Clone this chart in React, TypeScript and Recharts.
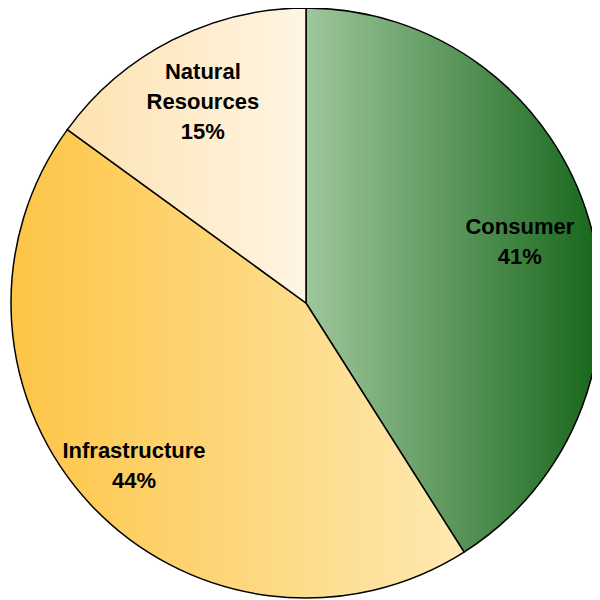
import { PieChart, Pie, Cell } from 'recharts';

// Sector shares (percent)
const sectors = ['Consumer', 'Infrastructure', 'Natural Resources'];
const shares = [41, 44, 15];

// gradient colours per slice: [left, right]
const gradients = [
  ['#9fc79c', '#17661b'],
  ['#fdc546', '#fee9b2'],
  ['#fde2b0', '#fff5e3'],
];
// how far out each label sits, as fraction of the radius
const labelPos = [0.755, 0.8, 0.77];

const data = sectors.map((name, i) => ({ name, value: shares[i] }));

const RADIAN = Math.PI / 180;

const renderLabel = (props: any) => {
  const { cx, cy, midAngle, outerRadius, index, name, percent } = props;
  const r = outerRadius * labelPos[index];
  const x = cx + r * Math.cos(-midAngle * RADIAN);
  const y = cy + r * Math.sin(-midAngle * RADIAN);
  const lines = name === 'Natural Resources' ? ['Natural', 'Resources'] : [name];
  lines.push(`${Math.round(percent * 100)}%`);
  const lh = 30;
  const startY = y - ((lines.length - 1) * lh) / 2;
  return (
    <text
      x={x}
      y={startY}
      textAnchor="middle"
      dominantBaseline="central"
      fill="#000"
      fontFamily="'Liberation Sans', Arial, sans-serif"
      fontWeight="bold"
      fontSize={22}
    >
      {lines.map((l, i) => (
        <tspan key={i} x={x} y={startY + i * lh}>
          {l}
        </tspan>
      ))}
    </text>
  );
};

const App = () => {
  return (
    <PieChart width={592} height={592} margin={{ top: 0, right: 0, bottom: 0, left: 0 }}>
      <defs>
        {gradients.map((g, i) => (
          <linearGradient key={i} id={`grad${i}`} x1="0" y1="0" x2="1" y2="0">
            <stop offset="0%" stopColor={g[0]} />
            <stop offset="100%" stopColor={g[1]} />
          </linearGradient>
        ))}
      </defs>
      <Pie
        data={data}
        dataKey="value"
        nameKey="name"
        cx={298}
        cy={295}
        outerRadius={295}
        startAngle={90}
        endAngle={-270}
        stroke="#000"
        strokeWidth={1.5}
        label={renderLabel}
        labelLine={false}
        isAnimationActive={false}
      >
        {data.map((d, i) => (
          <Cell key={d.name} fill={`url(#grad${i})`} />
        ))}
      </Pie>
    </PieChart>
  );
};

export default App;
